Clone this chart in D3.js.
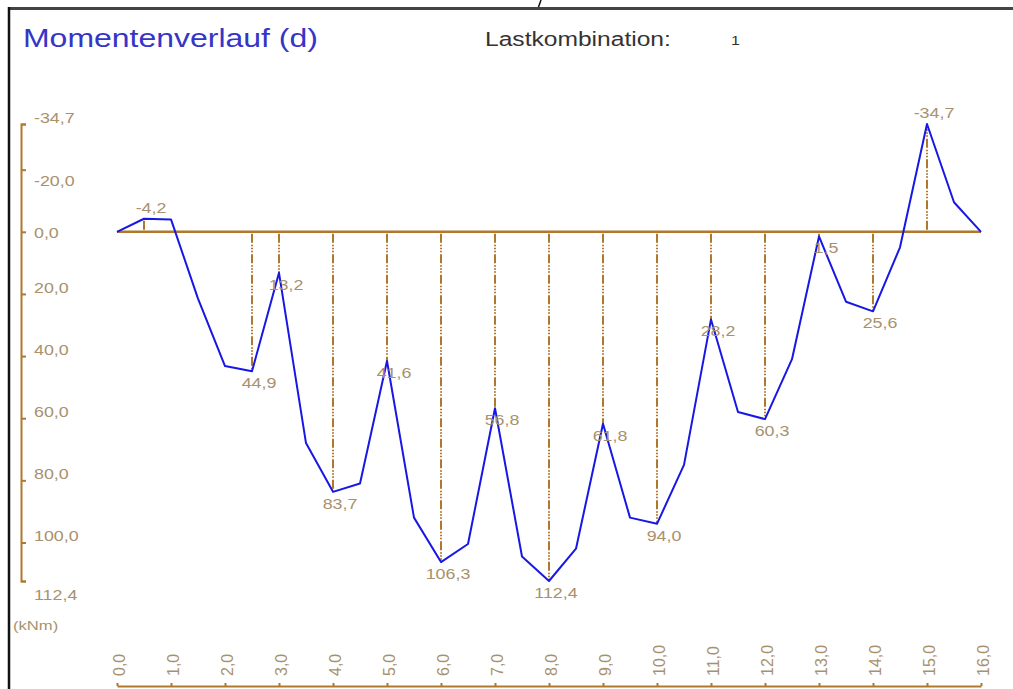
<!DOCTYPE html>
<html>
<head>
<meta charset="utf-8">
<style>
body { margin: 0; background: #fff; }
svg { display: block; font-family: Arial, "Liberation Sans", sans-serif; }
.lbl { fill: #a8916d; }
</style>
<script src="https://d3js.org/d3.v7.min.js"></script>
</head>
<body>
<svg width="1013" height="689"></svg>
<script>
// stations along the beam (m) and bending moment (kNm), sagging positive
var stations = [0, 0.5, 1, 1.5, 2, 2.5, 3, 3.5, 4, 4.5, 5, 5.5, 6, 6.5, 7, 7.5, 8,
                8.5, 9, 9.5, 10, 10.5, 11, 11.5, 12, 12.5, 13, 13.5, 14, 14.5, 15, 15.5, 16];
var moment = [0, -4.2, -4.0, 21.5, 43.2, 44.9, 13.2, 68, 83.7, 81, 41.6, 92, 106.3, 100.5, 56.8, 104.5, 112.4,
              102, 61.8, 92, 94.0, 75, 28.2, 58, 60.3, 41, 1.5, 22.5, 25.6, 5, -34.7, -9.5, 0];
// stations that get a drop line and a value label
var marked = [0.5, 2.5, 3, 4, 5, 6, 7, 8, 9, 10, 11, 12, 13, 14, 15];
var yTicks = [-34.7, -20, 0, 20, 40, 60, 80, 100, 112.4];
var xTicks = [0, 1, 2, 3, 4, 5, 6, 7, 8, 9, 10, 11, 12, 13, 14, 15, 16];

var title = "Momentenverlauf (d)",
    comboLabel = "Lastkombination:",
    comboValue = "1",
    unit = "(kNm)";

var brown = "#b0782c",
    blue = "#1818e4",
    sx = 1.23; // the glyphs are drawn wider than they are tall

var svg = d3.select("svg");

var x = d3.scaleLinear().domain([0, 16]).range([117, 981]);
var y = d3.scaleLinear().domain([-34.7, 112.4]).range([124, 581]);
var fmt = function(v) { return d3.format(".1f")(v).replace(".", ",").replace("\u2212", "-"); };

function place(sel, px, py) {
  sel.attr("transform", function(d, i) {
    return "translate(" + px(d, i) + "," + py(d, i) + ") scale(" + sx + ",1)";
  });
  return sel;
}

// frame
svg.append("line").attr("x1", 8).attr("x2", 1013).attr("y1", 8.5).attr("y2", 8.5)
    .attr("stroke", "#444").attr("stroke-width", 3);
svg.append("line").attr("x1", 9).attr("x2", 9).attr("y1", 7).attr("y2", 689)
    .attr("stroke", "#111").attr("stroke-width", 2.5);
svg.append("line").attr("x1", 541).attr("x2", 538.5).attr("y1", 0).attr("y2", 7)
    .attr("stroke", "#111").attr("stroke-width", 1.5);

// header
place(svg.append("text").datum(0), function() { return 23; }, function() { return 47; })
    .attr("fill", "#3535c8").style("font-size", "26px").text(title);
place(svg.append("text").datum(0), function() { return 485; }, function() { return 46; })
    .attr("fill", "#333").style("font-size", "20px").text(comboLabel);
place(svg.append("text").datum(0), function() { return 731; }, function() { return 45; })
    .attr("fill", "#333").style("font-size", "13px").text(comboValue);

// y axis (bracket)
svg.append("g")
    .attr("transform", "translate(21,0)")
    .call(d3.axisRight(y).tickValues(yTicks).tickSize(5).tickSizeOuter(5).tickFormat(""))
    .call(function(g) {
      g.selectAll("path, line").attr("stroke", brown).attr("stroke-width", 2);
    });

function yLabelPos(v, i) {
  var c = y(v) - 6;
  if (i === 1) c = y(v) + 11;
  if (i === 2) c = y(v) + 1.5;
  if (i === yTicks.length - 1) c = y(v) + 14;
  return c + 5;
}

place(svg.append("g").selectAll("text").data(yTicks).join("text")
        .attr("class", "lbl").style("font-size", "14.5px"),
      function() { return 34; }, yLabelPos)
    .text(fmt);

place(svg.append("text").datum(0).attr("class", "lbl").style("font-size", "13.5px"),
      function() { return 13; }, function() { return 630; })
    .text(unit);

// x axis
svg.append("g")
    .attr("transform", "translate(0,686)")
    .call(d3.axisTop(x).tickValues(xTicks).tickSize(3).tickSizeOuter(0).tickFormat(""))
    .call(function(g) {
      g.selectAll("path, line").attr("stroke", brown).attr("stroke-width", 2);
    });

svg.append("g").selectAll("text").data(xTicks).join("text")
    .attr("class", "lbl")
    .style("font-size", "16px")
    .attr("dy", "0.35em")
    .attr("transform", function(d) {
      return "translate(" + (x(d) + 2) + ",676) rotate(-90) scale(1,1.05)";
    })
    .text(fmt);

// zero line
svg.append("line")
    .attr("x1", x(0)).attr("x2", x(16))
    .attr("y1", y(0)).attr("y2", y(0))
    .attr("stroke", brown).attr("stroke-width", 2.5);

var pts = stations.map(function(s, i) { return {s: s, m: moment[i]}; });
var marks = pts.filter(function(p) { return marked.indexOf(p.s) >= 0; });

// drop lines
svg.append("g").selectAll("line").data(marks).join("line")
    .attr("x1", function(d) { return x(d.s); })
    .attr("x2", function(d) { return x(d.s); })
    .attr("y1", function(d) { return y(0) + (d.m >= 0 ? 2 : -2); })
    .attr("y2", function(d) { return y(d.m); })
    .attr("stroke", brown)
    .attr("stroke-width", 2)
    .attr("stroke-dasharray", "9,2,1.5,1.5,1.5,1.5,1.5,2");

// moment line
svg.append("path")
    .datum(pts)
    .attr("fill", "none")
    .attr("stroke", blue)
    .attr("stroke-width", 2)
    .attr("stroke-linejoin", "round")
    .attr("d", d3.line().x(function(d) { return x(d.s); }).y(function(d) { return y(d.m); }));

// value labels
place(svg.append("g").selectAll("text").data(marks).join("text")
        .attr("class", "lbl").style("font-size", "14.5px").attr("text-anchor", "middle"),
      function(d) { return x(d.s) + 7; },
      function(d) { return d.m >= 0 ? y(d.m) + 17 : y(d.m) - 6; })
    .text(function(d) { return fmt(d.m); });
</script>
</body>
</html>
